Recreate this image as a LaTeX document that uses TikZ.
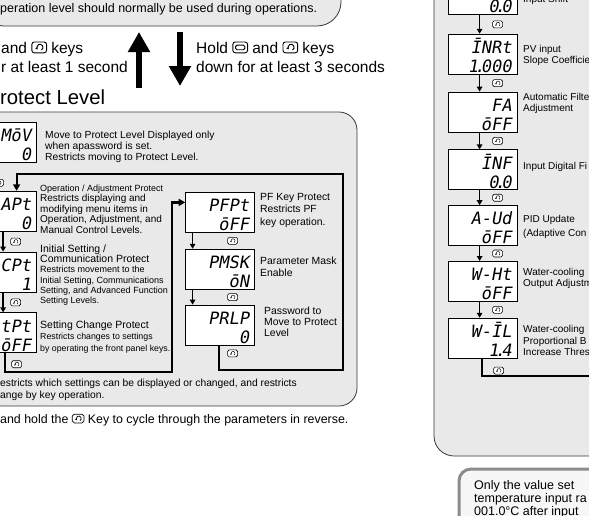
\documentclass[tikz,border=0pt]{standalone}
\usepackage{fontspec}
\setmainfont{Liberation Sans}
\newfontfamily\lcdfont{DejaVu Sans Mono}[FakeSlant=0.18]
\usetikzlibrary{positioning,calc,arrows.meta}
\definecolor{panelgray}{RGB}{233,233,233}
\definecolor{rimgray}{RGB}{55,55,55}
\definecolor{notegray}{RGB}{140,140,140}
\newcommand\lcdpt{\kern-0.22em.\kern-0.22em}
\newcommand\modekey{\tikz[x=1em,y=1em,baseline=-0.05em,line width=0.06em]{%
  \draw[rounded corners=0.16em,fill=white] (0,0) rectangle (0.95,0.7);
  \draw[-{Stealth[length=0.14em,width=0.2em]}] (0.62,0.18) arc[start angle=-60,end angle=220,radius=0.2em];}}
\newcommand\levkey{\tikz[x=1em,y=1em,baseline=-0.05em,line width=0.06em]{%
  \draw[rounded corners=0.16em,fill=white] (0,0) rectangle (0.95,0.7);
  \draw[rounded corners=0.1em] (0.17,0.2) rectangle (0.78,0.5);}}
\tikzset{lcd box/.style={draw,fill=white,line width=0.8pt,minimum width=69pt,minimum height=40pt,inner sep=0pt,
    text width=58pt,align=right,text height=17.4pt,text depth=19pt,font=\lcdfont\fontsize{17}{19}\selectfont},
  desc text/.style={anchor=north west,inner sep=0pt,align=left,font=\fontsize{10.3}{11}\selectfont},
  side text/.style={desc text,font=\fontsize{10}{11}\selectfont},
  key text/.style={anchor=north west,inner sep=0pt,align=left,font=\fontsize{15.5}{19}\selectfont},
  panel/.style={fill=panelgray,draw=rimgray,line width=0.8pt,rounded corners=18pt},
  note box/.style={fill=gray!6,draw=notegray,line width=3pt,rounded corners=12pt},
  mode key/.style={draw,fill=white,line width=0.6pt,rounded corners=1.6pt,minimum width=10pt,minimum height=7pt,inner sep=0pt,
    path picture={\draw[line width=0.5pt,-{Stealth[length=1.4pt,width=2pt]}] ([shift={(1.4pt,-1.7pt)}]path picture bounding box.center) arc[start angle=-60,end angle=220,radius=2pt];}},
  step arrow/.style={line width=1.3pt,-{Triangle[width=5.5pt,length=5pt]}},
  loop line/.style={line width=2.2pt},
  big arrow/.style={line width=6pt,-{Triangle[width=21pt,length=20pt]}}
}
\begin{document}
\begin{tikzpicture}[x=1pt,y=-1pt]
\useasboundingbox (0,0) rectangle (589,515);
\clip (0,0) rectangle (589,515);

\draw[panel,rounded corners=24pt] (-20,-40) rectangle (341,26);
\draw[panel] (-20,112) rectangle (357,406);
\draw[panel,rounded corners=20pt] (434,-40) rectangle (640,456);
\draw[note box] (459,469) rectangle (640,560);

\node[anchor=base west,inner sep=0pt,font=\fontsize{12.5}{14}\selectfont] (opnote) at (0,12.5) {peration level should normally be used during operations.};
\coordinate (upbase) at (139,88);
\coordinate (uptop) at (139,32);
\coordinate (dnbase) at (180,32);
\coordinate (dntip) at (180,86);
\draw[big arrow] (upbase) -- (uptop);
\draw[big arrow] (dnbase) -- (dntip);
\node[key text] (upkeys) at (1,41.3) {and \modekey{} keys\\r at least 1 second};
\node[key text] (dnkeys) at (196,41.3) {Hold \levkey{} and \modekey{} keys\\down for at least 3 seconds};
\node[anchor=base west,inner sep=0pt,font=\fontsize{20.3}{24}\selectfont] (protitle) at (0,104) {rotect Level};

% protect level
\node[lcd box,anchor=north east] (mov) at (37,122) {MōV\\0};
\node[lcd box] (oapt) [below=28pt of mov] {APt\\0};
\node[lcd box] (icpt) [below=20pt of oapt] {CPt\\1};
\node[lcd box] (wtpt) [below=20pt of icpt] {tPt\\ōFF};
\node[lcd box,anchor=north east] (pfpt) at (255,192) {PFPt\\ōFF};
\node[lcd box] (pmsk) [below=16pt of pfpt] {PMSK\\ōN};
\node[lcd box] (prlp) [below=15pt of pmsk] {PRLP\\0};

\node[desc text] (movtxt) at ([xshift=8pt,yshift=-9pt]mov.north east) {Move to Protect Level Displayed only\\when apassword is set.\\Restricts moving to Protect Level.};
\node[desc text,font=\fontsize{10}{10.5}\selectfont] (oapttxt) at ([xshift=3pt,yshift=6.3pt]oapt.north east)
  {{\fontsize{9}{10.5}\selectfont Operation / Adjustment Protect}\\Restricts displaying and\\modifying menu items in\\Operation, Adjustment, and\\Manual Control Levels.};
\node[desc text,font=\fontsize{10.5}{10.2}\selectfont] (icpttxt) at ([xshift=3pt,yshift=7pt]icpt.north east)
  {Initial Setting /\\Communication Protect\\{\fontsize{9}{10.2}\selectfont Restricts movement to the}\\{\fontsize{9}{10.2}\selectfont Initial Setting, Communications}\\{\fontsize{9}{10.2}\selectfont Setting, and Advanced Function}\\{\fontsize{9}{10.2}\selectfont Setting Levels.}};
\node[desc text,font=\fontsize{10.5}{11.5}\selectfont] (wtpttxt) at ([xshift=3pt,yshift=-8pt]wtpt.north east)
  {Setting Change Protect\\{\fontsize{8.8}{11.5}\selectfont Restricts changes to settings}\\{\fontsize{8.8}{11.5}\selectfont by operating the front panel keys.}};
\node[desc text,font=\fontsize{10.4}{12.5}\selectfont] (pfpttxt) at ([xshift=5pt,yshift=-1pt]pfpt.north east) {PF Key Protect\\Restricts PF\\key operation.};
\node[desc text,font=\fontsize{10.4}{11.5}\selectfont] (pmsktxt) at ([xshift=5pt,yshift=-8pt]pmsk.north east) {Parameter Mask\\Enable};
\node[desc text,font=\fontsize{10.4}{11}\selectfont] (prlptxt) at ([xshift=9pt,yshift=-2pt]prlp.north east) {Password to\\Move to Protect\\Level};

\path[step arrow]
  ([xshift=1pt]oapt.south) edge ([xshift=1pt]icpt.north)
  ([xshift=1pt]icpt.south) edge ([xshift=1pt]wtpt.north)
  ([xshift=-27.5pt]pfpt.south) edge ([xshift=-27.5pt]pmsk.north)
  ([xshift=-27.5pt]pmsk.south) edge ([xshift=-27.5pt]prlp.north);
\node[mode key] (k1) at ([xshift=-3.5pt,yshift=-20pt]mov.south) {};
\node[mode key] (k2) at ($(oapt.south)!0.5!(icpt.north)+(13.5pt,0)$) {};
\node[mode key] (k3) at ($(icpt.south)!0.5!(wtpt.north)+(13.5pt,0)$) {};
\node[mode key] (k4) at ([xshift=14.5pt,yshift=-11pt]wtpt.south) {};
\node[mode key] (k5) at ($(pfpt.south)!0.5!(pmsk.north)+(12.5pt,0)$) {};
\node[mode key] (k6) at ($(pmsk.south)!0.5!(prlp.north)+(12.5pt,0)$) {};
\node[mode key] (k7) at ([xshift=12.5pt,yshift=-8pt]prlp.south) {};

\coordinate (lpA) at (172,372);
\coordinate (lpB) at (343,370);
\coordinate (lpC) at (343,174);
\draw[loop line,-{Triangle[width=7pt,length=6.5pt]}] ([xshift=2.5pt]wtpt.south) |- (lpA) |- ([yshift=10pt]pfpt.west);
\draw[loop line,-{Triangle[width=7pt,length=6.5pt]}] ([xshift=-1.5pt]prlp.south) |- (lpB) -- (lpC) -| ([xshift=14.5pt]oapt.north);

\node[desc text,font=\fontsize{10.3}{12}\selectfont] (protnote) at (0,379) {estricts which settings can be displayed or changed, and restricts\\ange by key operation.};
\node[anchor=base west,inner sep=0pt,font=\fontsize{12.4}{14}\selectfont] (revnote) at (0,423.5) {and hold the \modekey{} Key to cycle through the parameters in reverse.};

% adjustment level
\node[lcd box,anchor=north east] (ins) at (517.5,-26) {\mbox{}\\0\lcdpt0};
\node[lcd box] (inrt) [below=19pt of ins] {ĪNRt\\1\lcdpt000};
\node[lcd box] (fa) [below=17pt of inrt] {FA\\ōFF};
\node[lcd box] (inf) [below=17pt of fa] {ĪNF\\0\lcdpt0};
\node[lcd box] (aud) [below=15pt of inf] {A-Ud\\ōFF};
\node[lcd box] (wht) [below=15pt of aud] {W-Ht\\ōFF};
\node[lcd box] (wcl) [below=16pt of wht] {W-ĪL\\1\lcdpt4};

\node[side text] (instxt) at ([xshift=5.5pt,yshift=-21.5pt]ins.north east) {Input Shift};
\node[side text] (inrttxt) at ([xshift=5.5pt,yshift=-11.5pt]inrt.north east) {PV input\\Slope Coefficie};
\node[side text] (fatxt) at ([xshift=5.5pt,yshift=-1.5pt]fa.north east) {Automatic Filte\\Adjustment};
\node[side text] (inftxt) at ([xshift=5.5pt,yshift=-12.5pt]inf.north east) {Input Digital Fi};
\node[side text,font=\fontsize{10}{14}\selectfont] (audtxt) at ([xshift=5.5pt,yshift=-9.5pt]aud.north east) {PID Update\\(Adaptive Con};
\node[side text] (whttxt) at ([xshift=5.5pt,yshift=-7.5pt]wht.north east) {Water-cooling\\Output Adjustm};
\node[side text,font=\fontsize{10}{11.5}\selectfont] (wcltxt) at ([xshift=5.5pt,yshift=-7.5pt]wcl.north east) {Water-cooling\\Proportional B\\Increase Thres};

\path[step arrow]
  ([xshift=-3pt]ins.south) edge ([xshift=-3pt]inrt.north)
  ([xshift=-3pt]inrt.south) edge ([xshift=-3pt]fa.north)
  ([xshift=-3pt]fa.south) edge ([xshift=-3pt]inf.north)
  ([xshift=-3pt]inf.south) edge ([xshift=-3pt]aud.north)
  ([xshift=-3pt]aud.south) edge ([xshift=-3pt]wht.north)
  ([xshift=-3pt]wht.south) edge ([xshift=-3pt]wcl.north);
\node[mode key] (k8) at ($(ins.south)!0.5!(inrt.north)+(15pt,0)$) {};
\node[mode key] (k9) at ($(inrt.south)!0.5!(fa.north)+(15pt,0)$) {};
\node[mode key] (k10) at ($(fa.south)!0.5!(inf.north)+(15pt,0)$) {};
\node[mode key] (k11) at ($(inf.south)!0.5!(aud.north)+(15pt,0)$) {};
\node[mode key] (k12) at ($(aud.south)!0.5!(wht.north)+(15pt,0)$) {};
\node[mode key] (k13) at ($(wht.south)!0.5!(wcl.north)+(15pt,0)$) {};
\node[mode key] (k14) at ([xshift=16pt,yshift=-12pt]wcl.south) {};
\coordinate (lpD) at (600,376);
\draw[loop line] ([xshift=-1pt]wcl.south) |- (lpD);

\node[anchor=north west,inner sep=0pt,align=left,font=\fontsize{12.5}{13}\selectfont] (notetxt) at (474,480.5) {Only the value set\\temperature input ra\\001.0°C after input};
\end{tikzpicture}
\end{document}
